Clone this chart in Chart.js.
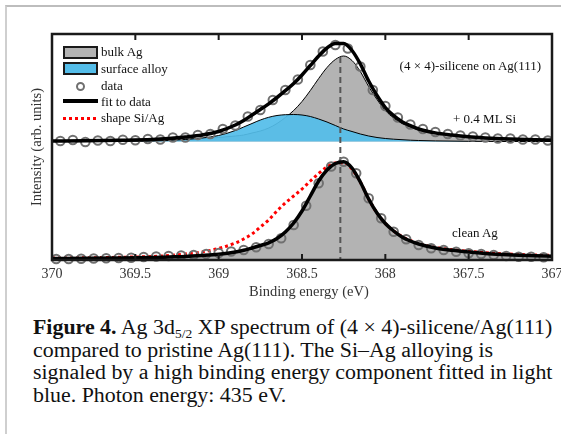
<!DOCTYPE html>
<html>
<head>
<meta charset="utf-8">
<script src="https://cdn.jsdelivr.net/npm/chart.js@4.4.1/dist/chart.umd.min.js"></script>
<style>
  html, body { margin: 0; padding: 0; background: #fff; }
  body { width: 561px; height: 434px; overflow: hidden; position: relative; font-family: 'Liberation Serif', 'Times New Roman', serif; }
  #frame { position: absolute; left: 5px; top: 5px; width: 620px; height: 500px; border-top: 2px solid #bdbdbd; border-left: 2px solid #cfcfcf; }
  #plot { position: absolute; left: 0; top: 0; }
  .txt { position: absolute; font-size: 13px; line-height: 16px; color: #111; white-space: nowrap; }
  .sw { position: absolute; box-sizing: border-box; }
  #xtitle { position: absolute; left: 249px; top: 282px; font-size: 14.5px; line-height: 18px; color: #333; white-space: nowrap; }
  #caption { position: absolute; left: 33px; top: 316px; font-size: 21.9px; line-height: 22.5px; color: #111; white-space: nowrap; }
  #caption sub { font-size: 13.5px; vertical-align: -4px; line-height: 0; }
</style>
</head>
<body>
<div id="frame"></div>
<canvas id="plot" width="590" height="310"></canvas>

<!-- legend -->
<div class="sw" style="left:63px;top:46px;width:35px;height:13px;background:#b3b3b3;border:2px solid #1a1a1a;"></div>
<div class="txt" style="left:101px;top:44px;">bulk Ag</div>
<div class="sw" style="left:63px;top:62px;width:35px;height:13px;background:#54bde9;border:2px solid #1a1a1a;"></div>
<div class="txt" style="left:101px;top:61px;">surface alloy</div>
<div class="sw" style="left:76px;top:82px;width:9px;height:9px;border:2px solid #707070;border-radius:50%;"></div>
<div class="txt" style="left:101px;top:78px;">data</div>
<div class="sw" style="left:63px;top:99px;width:35px;height:4px;background:#000;"></div>
<div class="txt" style="left:101px;top:94px;">fit to data</div>
<div class="sw" style="left:63px;top:117px;width:35px;height:3px;background:repeating-linear-gradient(90deg,#f00 0 3px,transparent 3px 6px);"></div>
<div class="txt" style="left:101px;top:110px;">shape Si/Ag</div>

<!-- annotations -->
<div class="txt" style="right:20px;top:58px;">(4 × 4)-silicene on Ag(111)</div>
<div class="txt" style="left:453px;top:111px;">+ 0.4 ML Si</div>
<div class="txt" style="left:452px;top:225px;">clean Ag</div>

<div id="xtitle">Binding energy (eV)</div>

<div id="caption"><b>Figure 4.</b> Ag 3d<sub>5/2</sub> XP spectrum of (4 × 4)-silicene/Ag(111)<br>compared to pristine Ag(111). The Si–Ag alloying is<br>signaled by a high binding energy component fitted in light<br>blue. Photon energy: 435 eV.</div>

<script>
// fit curves, sampled in binding energy (eV)
const energyFit = [370.0, 369.8, 369.6, 369.4, 369.3, 369.2, 369.1, 369.0, 368.9, 368.85,
  368.8, 368.75, 368.7, 368.65, 368.6, 368.55, 368.5, 368.45, 368.4, 368.35,
  368.3, 368.25, 368.2, 368.15, 368.1, 368.05, 368.0, 367.95, 367.9, 367.85,
  367.8, 367.7, 367.6, 367.5, 367.4, 367.3, 367.2, 367.1, 367.0];

// upper spectrum (+0.4 ML Si), relative to its own baseline
const bulkAg = [0.005, 0.007, 0.010, 0.015, 0.020, 0.025, 0.030, 0.040, 0.055, 0.065,
  0.085, 0.105, 0.135, 0.18, 0.24, 0.31, 0.40, 0.51, 0.63, 0.74,
  0.82, 0.855, 0.81, 0.70, 0.55, 0.42, 0.31, 0.235, 0.18, 0.145,
  0.115, 0.08, 0.06, 0.045, 0.035, 0.028, 0.022, 0.018, 0.015];
const surfaceAlloy = [0, 0, 0.002, 0.005, 0.01, 0.02, 0.035, 0.06, 0.11, 0.145,
  0.18, 0.215, 0.242, 0.26, 0.268, 0.27, 0.265, 0.25, 0.225, 0.195,
  0.16, 0.125, 0.10, 0.075, 0.055, 0.04, 0.03, 0.023, 0.018, 0.013,
  0.01, 0.006, 0.004, 0.002, 0.001, 0, 0, 0, 0];
const fitTop = [0.005, 0.007, 0.012, 0.020, 0.030, 0.045, 0.065, 0.10, 0.165, 0.21,
  0.265, 0.32, 0.377, 0.44, 0.508, 0.58, 0.665, 0.76, 0.855, 0.935,
  0.98, 0.98, 0.91, 0.775, 0.605, 0.46, 0.34, 0.258, 0.198, 0.158,
  0.125, 0.086, 0.064, 0.047, 0.036, 0.028, 0.022, 0.018, 0.015];

// lower spectrum (clean Ag)
const fitBottom = [0.015, 0.017, 0.020, 0.025, 0.030, 0.035, 0.045, 0.058, 0.080, 0.097,
  0.12, 0.145, 0.172, 0.215, 0.28, 0.37, 0.49, 0.64, 0.79, 0.90,
  0.965, 0.983, 0.92, 0.78, 0.61, 0.47, 0.365, 0.29, 0.23, 0.19,
  0.16, 0.12, 0.097, 0.08, 0.066, 0.056, 0.048, 0.042, 0.038];
const shapeSiAg = [0.02, 0.022, 0.027, 0.035, 0.045, 0.06, 0.08, 0.115, 0.17, 0.21,
  0.26, 0.33, 0.40, 0.49, 0.57, 0.64, 0.71, 0.79, 0.865, 0.93,
  0.97, 0.97, 0.91, 0.78, 0.61, 0.47, 0.365, 0.29, 0.235, 0.196,
  0.167, 0.127, 0.104, 0.087, 0.073, 0.063, 0.055, 0.05, 0.046];

// measured points
const energyDataTop = [369.95, 369.875, 369.8, 369.725, 369.65, 369.575, 369.5, 369.425, 369.35, 369.275,
  369.2, 369.125, 369.05, 368.975, 368.9, 368.825, 368.75, 368.675, 368.6, 368.525,
  368.45, 368.375, 368.3, 368.225, 368.15, 368.075, 368.0, 367.925, 367.85, 367.775,
  367.7, 367.625, 367.55, 367.475, 367.4, 367.325, 367.25, 367.175, 367.1, 367.025];
const dataTop = [0.005, 0.015, -0.005, 0.01, 0.005, 0.018, 0.012, 0.025, 0.02, 0.04,
  0.04, 0.065, 0.075, 0.125, 0.16, 0.25, 0.315, 0.415, 0.515, 0.62,
  0.765, 0.90, 0.965, 0.93, 0.75, 0.515, 0.355, 0.24, 0.17, 0.125,
  0.095, 0.075, 0.06, 0.05, 0.04, 0.03, 0.03, 0.02, 0.02, 0.01];
const energyDataBottom = [369.975, 369.9, 369.825, 369.75, 369.675, 369.6, 369.525, 369.45, 369.375, 369.3,
  369.225, 369.15, 369.075, 369.0, 368.925, 368.85, 368.775, 368.7, 368.625, 368.55,
  368.475, 368.4, 368.325, 368.25, 368.175, 368.1, 368.025, 367.95, 367.875, 367.8,
  367.725, 367.65, 367.575, 367.5, 367.425, 367.35, 367.275, 367.2, 367.125, 367.05];
const dataBottom = [0.01, 0.01, 0.012, 0.015, 0.018, 0.02, 0.022, 0.03, 0.035, 0.04,
  0.045, 0.05, 0.06, 0.07, 0.085, 0.10, 0.127, 0.16, 0.217, 0.35,
  0.543, 0.767, 0.935, 0.983, 0.867, 0.617, 0.417, 0.283, 0.207, 0.15,
  0.117, 0.10, 0.083, 0.067, 0.06, 0.05, 0.04, 0.033, 0.033, 0.027];

const xTicks = [370, 369.5, 369, 368.5, 368, 367.5, 367];
const TOP_OFFSET = 1.185;     // baseline of the upper spectrum
const PEAK_E = 368.27;        // bulk Ag position (dashed line)
const DASH_TOP = 2.03;

const pts = (xs, ys, off = 0) => xs.map((x, i) => ({ x, y: ys[i] + off }));

const frameTicks = {
  id: 'frameTicks',
  afterDatasetsDraw(chart) {
    const { ctx, chartArea: a, scales: { x } } = chart;
    ctx.save();
    ctx.strokeStyle = '#1a1a1a';
    ctx.lineWidth = 2;
    xTicks.forEach((v) => {
      const px = x.getPixelForValue(v);
      ctx.beginPath();
      ctx.moveTo(px, a.bottom); ctx.lineTo(px, a.bottom - 6);
      ctx.moveTo(px, a.top); ctx.lineTo(px, a.top + 6);
      ctx.stroke();
    });
    ctx.lineWidth = 2.5;
    ctx.strokeRect(a.left, a.top, a.right - a.left, a.bottom - a.top);
    ctx.restore();
  },
};

const curve = { pointRadius: 0, cubicInterpolationMode: 'monotone', clip: false };
const circles = { showLine: false, pointRadius: 4.3, pointBorderWidth: 2, pointBorderColor: '#707070', pointBackgroundColor: 'rgba(0,0,0,0)', clip: false };

new Chart(document.getElementById('plot'), {
  type: 'line',
  data: {
    datasets: [
      { ...curve, data: pts(energyFit, fitTop, TOP_OFFSET), borderColor: '#000', borderWidth: 3.5, order: 1 },
      { ...curve, data: pts(energyFit, fitBottom), borderColor: '#000', borderWidth: 3.5, order: 1 },
      { ...circles, data: pts(energyDataTop, dataTop, TOP_OFFSET), order: 2 },
      { ...circles, data: pts(energyDataBottom, dataBottom), order: 2 },
      { ...curve, data: pts(energyFit, shapeSiAg), borderColor: '#ff0000', borderWidth: 3, borderDash: [3, 3], order: 3 },
      { data: [{ x: PEAK_E, y: DASH_TOP }, { x: PEAK_E, y: 0 }], pointRadius: 0, borderColor: '#555', borderWidth: 2, borderDash: [6, 4], order: 4 },
      { ...curve, data: pts(energyFit, surfaceAlloy, TOP_OFFSET), borderColor: '#000', borderWidth: 1, backgroundColor: 'rgba(84,189,233,0.93)', fill: { value: TOP_OFFSET }, order: 5 },
      { ...curve, data: pts(energyFit, bulkAg, TOP_OFFSET), borderColor: '#000', borderWidth: 1, backgroundColor: '#b3b3b3', fill: { value: TOP_OFFSET }, order: 6 },
      { ...curve, data: pts(energyFit, fitBottom), borderWidth: 0, backgroundColor: '#b3b3b3', fill: 'origin', order: 7 },
    ],
  },
  options: {
    responsive: false,
    animation: false,
    devicePixelRatio: 1,
    layout: { padding: { left: 0, right: 38, top: 34, bottom: 0 } },
    plugins: { legend: { display: false }, tooltip: { enabled: false } },
    scales: {
      x: {
        type: 'linear', reverse: true, min: 367, max: 370,
        grid: { display: false, drawTicks: false }, border: { display: false },
        ticks: { stepSize: 0.5, padding: 6, color: '#333', font: { family: "'Liberation Serif', serif", size: 14 }, callback: (v) => String(v) },
        afterFit: (s) => { s.height = 50; },
      },
      y: {
        min: 0, max: 2.26,
        grid: { display: false, drawTicks: false }, border: { display: false },
        ticks: { display: false },
        title: { display: true, text: 'Intensity (arb. units)', color: '#333', font: { family: "'Liberation Serif', serif", size: 14.5 }, padding: { top: 28, bottom: 0 } },
        afterFit: (s) => { s.width = 52; },
      },
    },
  },
  plugins: [frameTicks],
});
</script>
</body>
</html>
